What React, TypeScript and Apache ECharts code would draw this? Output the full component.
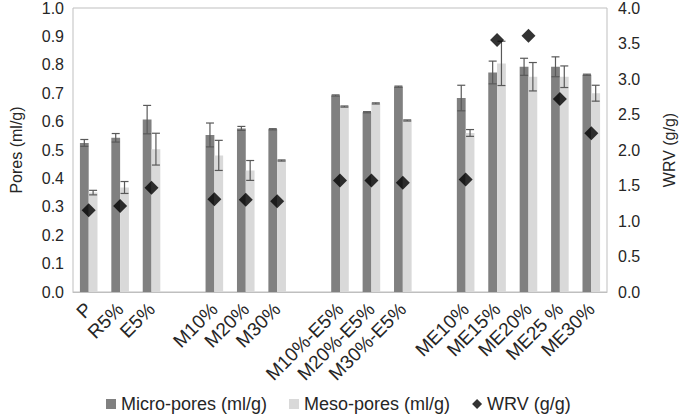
import React, { useEffect, useRef } from "react";
import * as echarts from "echarts";

const categories = ["P", "R5%", "E5%", "", "M10%", "M20%", "M30%", "", "M10%-E5%", "M20%-E5%", "M30%-E5%", "", "ME10%", "ME15%", "ME20%", "ME25 %", "ME30%"];
const micro = [0.525, 0.543, 0.607, null, 0.553, 0.576, 0.573, null, 0.692, 0.633, 0.723, null, 0.683, 0.773, 0.793, 0.793, 0.765];
const microErr = [0.012, 0.015, 0.05, null, 0.042, 0.007, 0.002, null, 0.002, 0.002, 0.002, null, 0.045, 0.04, 0.03, 0.035, 0.002];
const meso = [0.35, 0.368, 0.503, null, 0.481, 0.428, 0.463, null, 0.653, 0.664, 0.604, null, 0.56, 0.805, 0.758, 0.758, 0.70];
const mesoErr = [0.008, 0.021, 0.056, null, 0.053, 0.035, 0.002, null, 0.002, 0.002, 0.002, null, 0.012, 0.078, 0.05, 0.038, 0.028];
const wrv = [1.15, 1.21, 1.47, null, 1.305, 1.3, 1.277, null, 1.572, 1.572, 1.54, null, 1.586, 3.55, 3.61, 2.72, 2.236];
const leftTicks = { min: 0, max: 1, interval: 0.1 };
const rightTicks = { min: 0, max: 4, interval: 0.5 };

const FONT = "'Liberation Sans', Arial, sans-serif";
const TXT = "#262626";

function errData(vals: (number | null)[], errs: (number | null)[]) {
  const out: number[][] = [];
  vals.forEach((v, i) => {
    if (v != null && errs[i] != null) out.push([i, v, errs[i] as number]);
  });
  return out;
}

function makeErrRender(sign: number) {
  return (params: any, api: any) => {
    const idx = api.value(0);
    const v = api.value(1);
    const e = api.value(2);
    const band = api.size([1, 0])[0];
    const off = band * 0.14 * sign;
    const top = api.coord([idx, v + e]);
    const bot = api.coord([idx, v - e]);
    const x = top[0] + off;
    const cap = 4;
    const style = { stroke: "#595959", lineWidth: 1.2 };
    return {
      type: "group",
      children: [
        { type: "line", shape: { x1: x, y1: top[1], x2: x, y2: bot[1] }, style },
        { type: "line", shape: { x1: x - cap, y1: top[1], x2: x + cap, y2: top[1] }, style },
        { type: "line", shape: { x1: x - cap, y1: bot[1], x2: x + cap, y2: bot[1] }, style },
      ],
    };
  };
}

export default function App() {
  const ref = useRef<HTMLDivElement>(null);
  useEffect(() => {
    if (!ref.current) return;
    const chart = echarts.init(ref.current, undefined, { renderer: "svg" });
    chart.setOption({
      animation: false,
      textStyle: { fontFamily: FONT },
      grid: { left: 66, right: 64, top: 7, bottom: 125, show: true, borderColor: "#bfbfbf", borderWidth: 1 },
      legend: {
        left: 106,
        top: 395,
        padding: 0,
        itemWidth: 10,
        itemHeight: 10,
        itemGap: 22,
        textStyle: { fontSize: 18, color: TXT, fontFamily: FONT },
        data: [
          { name: "Micro-pores (ml/g)", icon: "rect" },
          { name: "Meso-pores (ml/g)", icon: "rect" },
          { name: "WRV (g/g)", icon: "diamond" },
        ],
      },
      xAxis: {
        type: "category",
        data: categories,
        axisLine: { show: true, lineStyle: { color: "#bfbfbf" } },
        axisTick: { show: false },
        axisLabel: { interval: 0, rotate: 45, fontSize: 19, color: TXT, margin: 14, fontFamily: FONT },
      },
      yAxis: [
        {
          type: "value",
          ...leftTicks,
          name: "Pores (ml/g)",
          nameLocation: "middle",
          nameGap: 49,
          nameTextStyle: { fontSize: 16, color: TXT, fontFamily: FONT },
          splitLine: { show: false },
          axisLine: { show: false },
          axisTick: { show: false },
          axisLabel: { fontSize: 16, color: TXT, formatter: (v: number) => v.toFixed(1), margin: 9, fontFamily: FONT },
        },
        {
          type: "value",
          ...rightTicks,
          name: "WRV (g/g)",
          nameLocation: "middle",
          nameGap: 54,
          nameTextStyle: { fontSize: 16, color: TXT, fontFamily: FONT },
          splitLine: { show: false },
          axisLine: { show: false },
          axisTick: { show: false },
          axisLabel: { fontSize: 16, color: TXT, formatter: (v: number) => v.toFixed(1), margin: 11, fontFamily: FONT },
        },
      ],
      series: [
        {
          name: "Micro-pores (ml/g)",
          type: "bar",
          data: micro,
          barWidth: "28%",
          barGap: "0%",
          itemStyle: { color: "#808080" },
        },
        {
          name: "Meso-pores (ml/g)",
          type: "bar",
          data: meso,
          barWidth: "28%",
          barGap: "0%",
          itemStyle: { color: "#d9d9d9" },
        },
        {
          name: "microErr",
          type: "custom",
          data: errData(micro, microErr),
          encode: { x: 0, y: 1 },
          renderItem: makeErrRender(-1),
          z: 5,
        },
        {
          name: "mesoErr",
          type: "custom",
          data: errData(meso, mesoErr),
          encode: { x: 0, y: 1 },
          renderItem: makeErrRender(1),
          z: 5,
        },
        {
          name: "WRV (g/g)",
          type: "scatter",
          yAxisIndex: 1,
          data: wrv,
          symbol: "diamond",
          symbolSize: 14,
          itemStyle: { color: "#000000" },
          z: 10,
        },
      ],
    });
    return () => chart.dispose();
  }, []);
  return <div ref={ref} style={{ width: 685, height: 417, position: "absolute", left: 0, top: 0 }} />;
}
